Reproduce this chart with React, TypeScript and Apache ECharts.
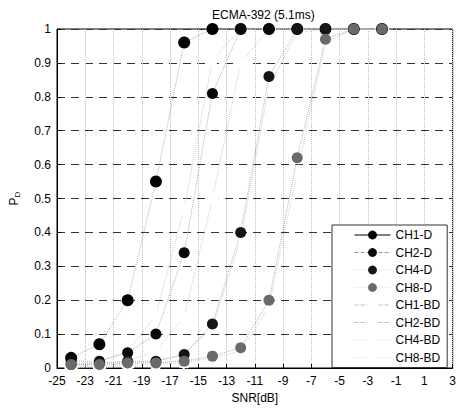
import React, { useEffect, useRef } from "react";
import * as echarts from "echarts";

const snr = [-24, -22, -20, -18, -16, -14, -12, -10, -8, -6, -4, -2];
const ch1D = [0.03, 0.07, 0.2, 0.55, 0.96, 1, 1, 1, 1, 1, 1, 1];
const ch2D = [0.02, 0.02, 0.045, 0.1, 0.34, 0.81, 1, 1, 1, 1, 1, 1];
const ch4D = [0.01, 0.015, 0.02, 0.02, 0.04, 0.13, 0.4, 0.86, 1, 1, 1, 1];
const ch8D = [0.01, 0.01, 0.015, 0.015, 0.02, 0.035, 0.06, 0.2, 0.62, 0.97, 1, 1];
const ch1BD = [0.01, 0.02, 0.05, 0.155, 0.47, 0.91, 1, 1, 1, 1, 1, 1];
const ch2BD = [0.005, 0.01, 0.02, 0.05, 0.15, 0.5, 0.9, 1, 1, 1, 1, 1];
const ch4BD = [0, 0.005, 0.01, 0.02, 0.04, 0.12, 0.38, 0.83, 0.99, 1, 1, 1];
const ch8BD = [0, 0, 0.005, 0.01, 0.015, 0.03, 0.05, 0.18, 0.58, 0.96, 1, 1];
const xTicks = [-25, -23, -21, -19, -17, -15, -13, -11, -9, -7, -5, -3, -1, 1, 3];

const FONT = "'Liberation Sans', Arial, Helvetica, sans-serif";

export default function App() {
  const ref = useRef<HTMLDivElement>(null);
  useEffect(() => {
    if (!ref.current) return;
    const chart = echarts.init(ref.current, null, { renderer: "svg" });
    const pairs = (ys: number[]) => snr.map((x, i) => [x, ys[i]]);
    const dSeries = (name: string, ys: number[], color: string, size: number) => ({
      name,
      type: "line",
      data: pairs(ys),
      symbol: "circle",
      symbolSize: size,
      itemStyle: { color },
      lineStyle: { color: "#b0b0b0", width: 1, type: "dotted" },
      z: 3,
    });
    const bdSeries = (name: string, ys: number[]) => ({
      name,
      type: "line",
      data: pairs(ys),
      symbol: "emptyCircle",
      symbolSize: 11,
      itemStyle: { color: "#fff", borderColor: "#aaa", borderWidth: 1, borderType: "dotted" },
      lineStyle: { color: "#cccccc", width: 1, type: "dotted" },
      z: 2,
    });
    const option = {
      animation: false,
      textStyle: { fontFamily: FONT },
      title: {
        text: "ECMA-392 (5.1ms)",
        left: 207,
        top: 4,
        textStyle: { fontSize: 12, fontWeight: "normal", color: "#000", fontFamily: FONT },
      },
      grid: { left: 52, right: 3, top: 29, bottom: 32, show: true, borderColor: "#000", borderWidth: 1 },
      legend: {
        orient: "vertical",
        left: 332,
        top: 225,
        padding: [4, 7, 4, 22],
        itemWidth: 36,
        itemHeight: 11,
        itemGap: 5.5,
        backgroundColor: "#fff",
        borderColor: "#333",
        borderWidth: 1,
        textStyle: { fontSize: 12, color: "#000", fontFamily: FONT },
        data: [
          { name: "CH1-D", lineStyle: { color: "#000", width: 1, type: "solid" } },
          { name: "CH2-D", lineStyle: { color: "#999", width: 1, type: "dashed" } },
          { name: "CH4-D", lineStyle: { color: "#ddd", width: 1, type: "dotted" } },
          { name: "CH8-D", lineStyle: { color: "#ddd", width: 1, type: "dotted" } },
          { name: "CH1-BD", lineStyle: { color: "#bbb", width: 1, type: "dashed" } },
          { name: "CH2-BD", lineStyle: { color: "#bbb", width: 1, type: "dashed" } },
          { name: "CH4-BD", lineStyle: { color: "#ddd", width: 1, type: "dotted" } },
          { name: "CH8-BD", lineStyle: { color: "#ddd", width: 1, type: "dotted" } },
        ],
      },
      xAxis: {
        type: "value",
        min: -25,
        max: 3,
        name: "SNR[dB]",
        nameLocation: "middle",
        nameGap: 24,
        nameTextStyle: { fontSize: 12, color: "#000", fontFamily: FONT },
        axisLine: { onZero: false, lineStyle: { color: "#000" } },
        axisTick: { inside: true, length: 4, customValues: xTicks, lineStyle: { color: "#000" } },
        axisLabel: { customValues: xTicks, fontSize: 12, color: "#000", margin: 7, fontFamily: FONT },
        splitLine: { show: true, lineStyle: { type: "dotted", color: "#bbb", width: 1 } },
      },
      yAxis: {
        type: "value",
        min: 0,
        max: 1,
        interval: 0.1,
        name: "{a|P}{b|D}",
        nameLocation: "middle",
        nameGap: 36,
        nameRotate: 90,
        nameTextStyle: {
          color: "#000",
          rich: {
            a: { fontSize: 12, color: "#000", fontFamily: FONT },
            b: { fontSize: 8, color: "#000", fontFamily: FONT, verticalAlign: "bottom", padding: [6, 0, 0, 0] },
          },
        },
        axisLine: { onZero: false, lineStyle: { color: "#000" } },
        axisTick: { inside: true, length: 4, lineStyle: { color: "#000" } },
        axisLabel: { fontSize: 12, color: "#000", margin: 6, fontFamily: FONT },
        splitLine: { show: true, lineStyle: { type: [8, 6], color: "#333", width: 1 } },
      },
      series: [
        dSeries("CH1-D", ch1D, "#000", 12),
        dSeries("CH2-D", ch2D, "#0a0a0a", 11),
        dSeries("CH4-D", ch4D, "#151515", 11),
        dSeries("CH8-D", ch8D, "#6a6a6a", 11),
        bdSeries("CH1-BD", ch1BD),
        bdSeries("CH2-BD", ch2BD),
        bdSeries("CH4-BD", ch4BD),
        bdSeries("CH8-BD", ch8BD),
      ],
    };
    chart.setOption(option as any);
    return () => chart.dispose();
  }, []);
  return (
    <div
      ref={ref}
      style={{ position: "fixed", left: 0, top: 0, width: 459, height: 409, background: "#fff" }}
    />
  );
}
